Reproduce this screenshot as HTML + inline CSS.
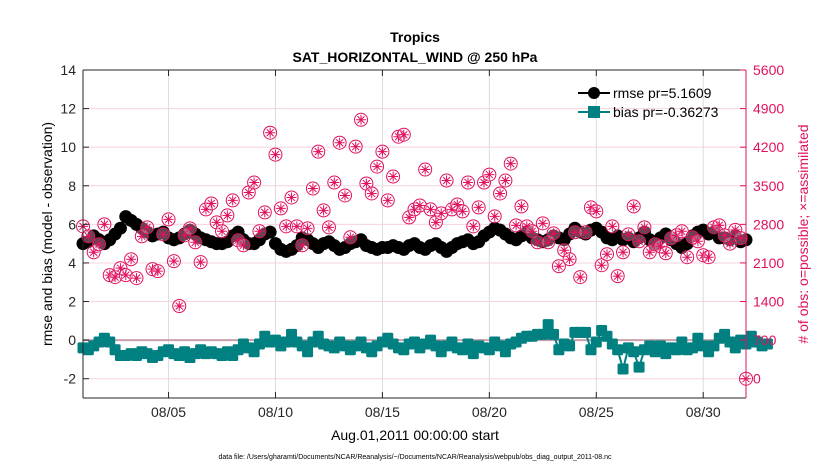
<!DOCTYPE html>
<html><head><meta charset="utf-8"><style>
body{margin:0;background:#fff}
svg{display:block;font-family:"Liberation Sans",Arial,sans-serif}
</style></head><body>
<svg id="chart" width="830" height="470" viewBox="0 0 830 470">
<g id="grid"></g>
<g id="series"></g>
<g id="axes"></g>
<text x="415" y="42" text-anchor="middle" font-size="14" font-weight="bold">Tropics</text>
<text x="415" y="62" text-anchor="middle" font-size="14" font-weight="bold">SAT_HORIZONTAL_WIND @ 250 hPa</text>
<text x="415" y="440" text-anchor="middle" font-size="14">Aug.01,2011 00:00:00 start</text>
<text x="415" y="459" text-anchor="middle" font-size="7">data file: /Users/gharamti/Documents/NCAR/Reanalysis/~/Documents/NCAR/Reanalysis/webpub/obs_diag_output_2011-08.nc</text>
<text transform="translate(52,234) rotate(-90)" text-anchor="middle" font-size="14">rmse and bias (model - observation)</text>
<text transform="translate(808,234) rotate(-90)" text-anchor="middle" font-size="14" fill="#e0115f"># of obs: o=possible; ×=assimilated</text>
<g>
<line x1="578" y1="93" x2="610" y2="93" stroke="#000" stroke-width="2"/>
<circle cx="594" cy="93" r="6" fill="#000"/>
<text x="613" y="98" font-size="14">rmse pr=5.1609</text>
<line x1="578" y1="112" x2="610" y2="112" stroke="#008080" stroke-width="2"/>
<rect x="588" y="106" width="12" height="12" fill="#008080"/>
<text x="613" y="117" font-size="14">bias pr=-0.36273</text>
</g>
</svg>
<script>
const xTickLabels=["08/05","08/10","08/15","08/20","08/25","08/30"];
const xTickDays=[5,10,15,20,25,30];
const yTicks=[-2,0,2,4,6,8,10,12,14];
const y2Ticks=[0,700,1400,2100,2800,3500,4200,4900,5600];
const rmse=[5.0,5.1,5.4,5.2,5.0,5.2,5.5,5.8,6.4,6.2,6.0,5.8,5.6,5.4,5.5,5.6,5.3,5.2,5.3,5.5,5.7,5.5,5.3,5.2,5.1,5.0,5.0,5.1,5.4,5.6,5.2,5.0,5.0,5.2,5.5,5.6,5.0,4.7,4.6,4.7,4.9,5.3,5.2,5.0,4.8,5.0,5.1,4.9,4.7,4.8,5.0,5.1,5.2,4.9,4.8,4.7,4.8,4.8,4.9,4.8,4.7,4.9,5.0,4.8,4.7,4.9,5.0,4.8,4.6,4.8,5.0,5.1,5.2,5.0,5.1,5.4,5.6,5.8,5.7,5.5,5.3,5.2,5.4,5.6,5.3,5.2,5.1,5.2,5.4,5.3,5.2,5.5,5.8,5.6,5.5,5.7,5.8,5.6,5.3,5.2,5.4,5.2,5.3,5.1,5.3,5.6,5.2,5.0,5.3,5.5,5.2,5.0,4.8,5.0,5.4,5.6,5.7,5.5,5.6,5.3,5.3,5.2,5.4,5.1,5.2];
const bias=[-0.4,-0.5,-0.3,-0.1,0.1,-0.1,-0.5,-0.8,-0.8,-0.7,-0.8,-0.6,-0.7,-0.9,-0.8,-0.6,-0.5,-0.7,-0.8,-0.6,-0.9,-0.7,-0.5,-0.7,-0.6,-0.7,-0.8,-0.6,-0.8,-0.5,-0.2,-0.4,-0.6,-0.2,0.2,-0.1,0.0,-0.3,-0.1,0.3,-0.1,-0.3,-0.6,-0.1,0.2,-0.2,-0.3,-0.4,-0.1,-0.3,-0.5,-0.3,-0.1,-0.4,-0.6,-0.3,-0.1,0.1,-0.2,-0.4,-0.5,-0.2,-0.1,-0.4,-0.2,0.0,-0.3,-0.6,-0.3,-0.1,-0.4,-0.5,-0.2,-0.7,-0.3,-0.4,-0.5,-0.1,-0.3,-0.6,-0.2,-0.1,0.1,0.2,0.2,0.3,0.3,0.8,0.3,-0.5,-0.2,-0.3,0.4,0.4,0.4,-0.5,-0.1,0.5,0.2,-0.2,-0.5,-1.5,-0.4,-0.6,-1.4,-0.5,-0.3,-0.6,-0.3,-0.7,-0.4,-0.5,-0.1,-0.5,-0.4,0.1,-0.3,-0.6,-0.3,0.1,0.3,-0.1,-0.4,0.0,-0.2,0.2,-0.1,-0.3,-0.2];
const obsCount=[2764,2583,2294,2439,2800,1879,1843,2005,1879,2168,1825,2583,2746,1987,1951,2619,2890,2132,1319,2601,2728,2475,2114,3071,3179,2836,2674,2963,3234,2511,2421,3378,3559,2674,3017,4462,4065,3089,2764,3288,2764,2421,2728,3450,4119,3053,2746,3559,4281,3324,2565,4209,4697,3541,3360,3848,4119,3234,3667,4390,4426,2926,3071,3143,3794,3071,2836,2999,3595,3071,3161,3035,3559,2764,3107,3559,3703,2945,3360,3595,3902,2782,3125,2764,2674,2475,2818,2475,2637,2041,2330,2168,2656,1843,2656,3107,3035,2059,2258,2764,1861,2294,2619,3125,2493,2746,2294,2439,2403,2276,2547,2601,2674,2204,2565,2493,2240,2204,2746,2782,2600,2450,2700,2550,0];
const NS='http://www.w3.org/2000/svg';
const L=83,R=746,T=70,B=398,D0=1,D1=32,Y0=-3,Y1=14;
const xs=d=>L+(d-D0)/(D1-D0)*(R-L);
const ys=v=>B-(v-Y0)/(Y1-Y0)*(B-T);
const y2s=c=>ys(c/350-2);
function mk(tag,attrs,parent){const e=document.createElementNS(NS,tag);for(const k in attrs)e.setAttribute(k,attrs[k]);parent.appendChild(e);return e;}
const grid=document.getElementById('grid'),ser=document.getElementById('series'),ax=document.getElementById('axes');
yTicks.forEach(v=>{const g=mk('line',{x1:L,x2:R,y1:ys(v),y2:ys(v),stroke:'#f6d3df','stroke-width':1},grid);

});
xTickDays.forEach(d=>{const g=mk('line',{x1:xs(d),x2:xs(d),y1:T,y2:B,stroke:'#dcdcdc','stroke-width':1},grid);

});
const zl=mk('line',{x1:L,x2:R,y1:ys(0),y2:ys(0),stroke:'#c9a0aa','stroke-width':2},grid);


// rmse
const rp=rmse.map((v,i)=>xs(D0+i*0.25)+','+ys(v)).join(' ');
const rl=mk('polyline',{points:rp,fill:'none',stroke:'#000','stroke-width':2},ser);


rmse.forEach((v,i)=>{const c=mk('circle',{cx:xs(D0+i*0.25),cy:ys(v),r:6.5,fill:'#000'},ser);

});
// bias
const bp=bias.map((v,i)=>xs(D0+i*0.25)+','+ys(v)).join(' ');
const bl=mk('polyline',{points:bp,fill:'none',stroke:'#008080','stroke-width':2},ser);


bias.forEach((v,i)=>{const r=mk('rect',{x:xs(D0+i*0.25)-5.5,y:ys(v)-5.5,width:11,height:11,rx:1.5,fill:'#008080'},ser);

});
// obs
obsCount.forEach((c,i)=>{const x=xs(D0+i*0.25),y=y2s(c);
const g=mk('g',{stroke:'#e0115f','stroke-width':1,fill:'none'},ser);


mk('circle',{cx:x,cy:y,r:6.5,fill:'#fff','fill-opacity':0.3},g);
mk('path',{d:`M${x-5} ${y}H${x+5}M${x} ${y-5}V${y+5}M${x-3.5} ${y-3.5}L${x+3.5} ${y+3.5}M${x-3.5} ${y+3.5}L${x+3.5} ${y-3.5}`},g);});
// axes
mk('line',{x1:L,x2:L,y1:T,y2:B,stroke:'#262626','stroke-width':1},ax);
mk('line',{x1:L,x2:R,y1:B,y2:B,stroke:'#262626','stroke-width':1},ax);
mk('line',{x1:L,x2:R,y1:T,y2:T,stroke:'#262626','stroke-width':1},ax);
mk('line',{x1:R,x2:R,y1:T,y2:B,stroke:'#e0115f','stroke-width':1},ax);
yTicks.forEach(v=>{mk('line',{x1:L,x2:L+6,y1:ys(v),y2:ys(v),stroke:'#262626'},ax);
const t=mk('text',{x:L-7,y:ys(v)+5,'text-anchor':'end','font-size':14,fill:'#262626'},ax);t.textContent=v;

});
y2Ticks.forEach(c=>{mk('line',{x1:R-6,x2:R,y1:y2s(c),y2:y2s(c),stroke:'#e0115f'},ax);
const t=mk('text',{x:R+7,y:y2s(c)+5,'font-size':14,fill:'#e0115f'},ax);t.textContent=c;

});
xTickDays.forEach((d,i)=>{mk('line',{x1:xs(d),x2:xs(d),y1:B-6,y2:B,stroke:'#262626'},ax);
mk('line',{x1:xs(d),x2:xs(d),y1:T,y2:T+6,stroke:'#262626'},ax);
const t=mk('text',{x:xs(d),y:B+19,'text-anchor':'middle','font-size':14,fill:'#262626'},ax);t.textContent=xTickLabels[i];

});
</script>
</body></html>
